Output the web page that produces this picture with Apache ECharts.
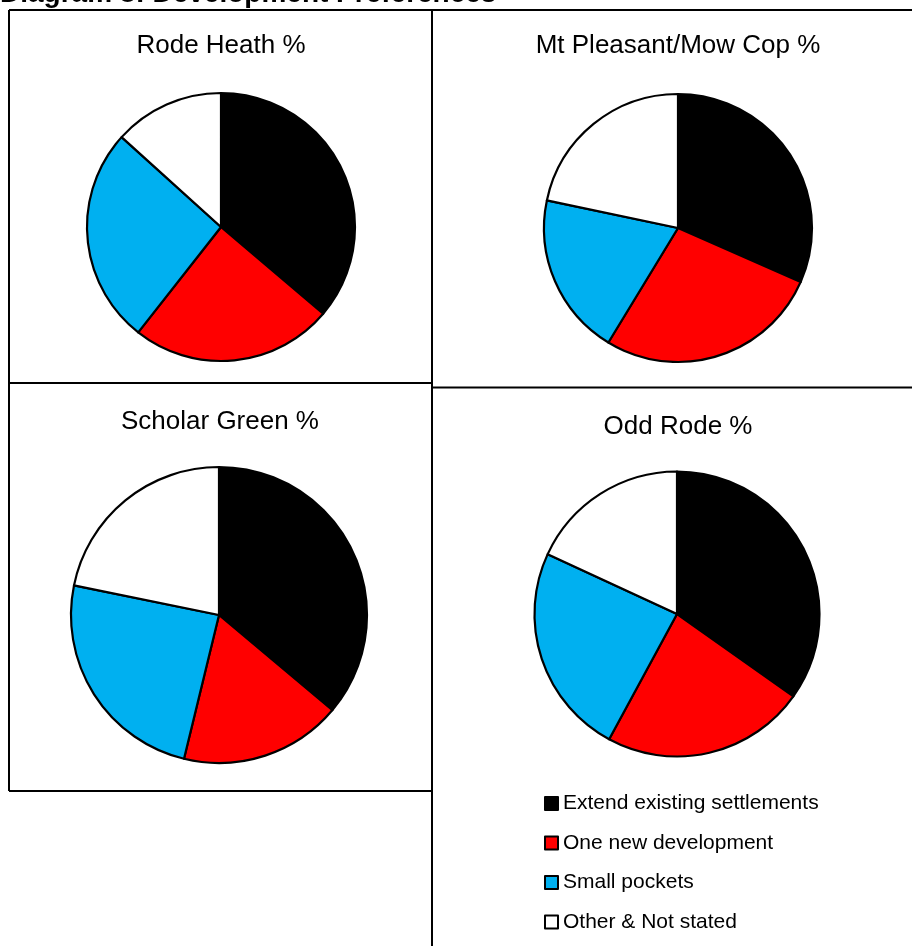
<!DOCTYPE html>
<html>
<head>
<meta charset="utf-8">
<script src="https://cdn.jsdelivr.net/npm/echarts@6/dist/echarts.min.js"></script>
<style>
html,body{margin:0;padding:0;background:#fff;}
#chart{width:912px;height:946px;}
</style>
</head>
<body>
<div id="chart"></div>
<script>
var categories = ['Extend existing settlements', 'One new development', 'Small pockets', 'Other & Not stated'];
var sliceColors = ['#000000', '#FF0000', '#00B0F0', '#FFFFFF'];
var areaNames = ['Rode Heath %', 'Mt Pleasant/Mow Cop %', 'Scholar Green %', 'Odd Rode %'];
var rodeHeath = [36.2, 24.4, 26.1, 13.3];
var mtPleasant = [31.6, 27.1, 19.6, 21.7];
var scholarGreen = [36.1, 17.7, 24.4, 21.8];
var oddRode = [34.8, 23.1, 24.0, 18.1];
var mainTitle = 'Diagram 8: Development Preferences';

var areaValues = [rodeHeath, mtPleasant, scholarGreen, oddRode];
var pieCenters = [[221, 227], [678, 228], [219, 615], [677, 614]];
var pieRadii = [134, 134, 148, 142.5];
var titlePos = [[221, 46], [678, 46], [220, 422], [678, 427]];

var FONT = '"Liberation Sans", Arial, sans-serif';

var series = areaValues.map(function (vals, i) {
  return {
    type: 'pie',
    name: areaNames[i],
    center: pieCenters[i],
    radius: pieRadii[i],
    startAngle: 90,
    clockwise: true,
    silent: true,
    animation: false,
    label: { show: false },
    labelLine: { show: false },
    emphasis: { disabled: true },
    itemStyle: { borderColor: '#000', borderWidth: 2.2 },
    data: categories.map(function (c, j) {
      return { name: c, value: vals[j], itemStyle: { color: sliceColors[j] } };
    })
  };
});

var graphics = [];
function line(x1, y1, x2, y2) {
  graphics.push({ type: 'line', shape: { x1: x1, y1: y1, x2: x2, y2: y2 }, style: { stroke: '#000', lineWidth: 2 }, silent: true, z: 10 });
}
// frames
line(9, 10, 912, 10);
line(9, 10, 9, 791);
line(432, 10, 432, 946);
line(9, 383, 432, 383);
line(432, 387.5, 912, 387.5);
line(9, 791, 432, 791);

areaNames.forEach(function (t, i) {
  graphics.push({ type: 'text', x: titlePos[i][0], y: titlePos[i][1], silent: true,
    style: { text: t, fontSize: 26, fontFamily: FONT, fill: '#000', align: 'center', verticalAlign: 'middle' } });
});
graphics.push({ type: 'text', x: 0, y: -5.5, silent: true,
  style: { text: mainTitle, fontSize: 28, fontWeight: 'bold', fontFamily: FONT, fill: '#000', align: 'left', verticalAlign: 'middle' } });

var chart = echarts.init(document.getElementById('chart'), null, { renderer: 'canvas' });
chart.setOption({
  backgroundColor: '#fff',
  animation: false,
  legend: {
    data: categories,
    orient: 'vertical',
    left: 544,
    top: 793,
    padding: 0,
    itemWidth: 13,
    itemHeight: 13,
    itemGap: 18.5,
    icon: 'rect',
    selectedMode: false,
    itemStyle: { borderColor: '#000', borderWidth: 2 },
    textStyle: { fontSize: 21, fontFamily: FONT, color: '#000' }
  },
  graphic: graphics,
  series: series
});
</script>
</body>
</html>
